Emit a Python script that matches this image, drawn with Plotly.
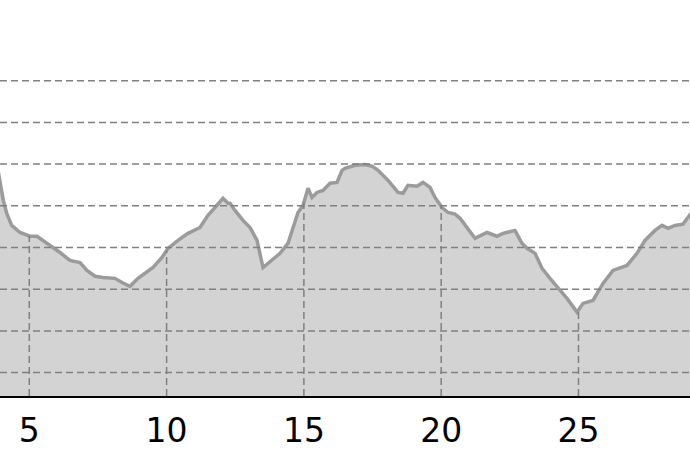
import numpy as np
import plotly.graph_objects as go

# distance (km) and elevation (m)
distance = [3.78, 3.933, 4.053, 4.177, 4.359, 4.661, 5.025, 5.280, 5.499, 5.827, 6.118,
            6.482, 6.846, 7.101, 7.393, 7.684, 8.121, 8.376, 8.667, 8.959, 9.213,
            9.505, 9.832, 10.051, 10.415, 10.779, 11.216, 11.508, 11.763, 12.054, 12.236,
            12.309, 12.491, 12.783, 13.038, 13.293, 13.511, 13.839, 14.130, 14.421, 14.603,
            14.785, 14.967, 15.150, 15.295, 15.477, 15.696, 15.951, 16.206, 16.388, 16.497,
            16.862, 17.226, 17.481, 17.699, 18.064, 18.428, 18.610, 18.792, 19.120, 19.339,
            19.594, 19.776, 20.031, 20.249, 20.504, 20.686, 20.941, 21.232, 21.669, 22.033,
            22.251, 22.688, 22.943, 23.125, 23.417, 23.672, 23.963, 24.327, 24.582, 24.946,
            25.164, 25.528, 25.893, 26.257, 26.767, 27.131, 27.422, 27.787, 28.042, 28.260,
            28.515, 28.806, 29.061, 29.31]
elevation = [615, 556, 513, 482, 453, 436, 427, 427, 417, 400, 388,
             369, 364, 345, 331, 328, 326, 316, 307, 326, 338,
             352, 376, 398, 417, 434, 448, 477, 496, 518, 506,
             506, 489, 465, 448, 417, 352, 369, 386, 410, 448,
             484, 501, 542, 520, 532, 537, 554, 556, 585, 590,
             597, 599, 595, 585, 561, 532, 530, 549, 547, 556,
             544, 520, 496, 484, 480, 470, 448, 422, 436, 427,
             434, 441, 410, 398, 386, 350, 326, 297, 278, 245,
             266, 273, 314, 345, 357, 386, 417, 441, 453, 446,
             453, 456, 477, 501]

x_ticks = [5, 10, 15, 20, 25]
grid_levels = [100, 200, 300, 400, 500, 600, 700, 800]
x_range = [3.933, 29.061]
y_range = [43.9, 880.8]

fig = go.Figure()
fig.add_trace(go.Scatter(
    x=distance, y=elevation, mode="lines",
    line=dict(color="#9b9b9b", width=3.5),
    fill="tozeroy", fillcolor="#d3d3d3",
    hoverinfo="skip", showlegend=False,
))

shapes = []
for g in grid_levels:
    shapes.append(dict(type="line", xref="paper", x0=0, x1=1, yref="y", y0=g, y1=g,
                       line=dict(color="#808080", width=1.5, dash="7px,4px"), layer="above"))
for t in x_ticks:
    top = float(np.interp(t, distance, elevation))
    shapes.append(dict(type="line", xref="x", x0=t, x1=t, yref="y", y0=y_range[0], y1=top,
                       line=dict(color="#808080", width=1.5, dash="7px,4px"), layer="above"))

fig.update_layout(
    width=690, height=460,
    margin=dict(l=0, r=0, t=47, b=64),
    paper_bgcolor="white", plot_bgcolor="white",
    shapes=shapes,
    xaxis=dict(range=x_range, tickvals=x_ticks, ticktext=[str(t) for t in x_ticks],
               showgrid=False, zeroline=False, showline=True, linecolor="black", linewidth=2,
               ticks="outside", ticklen=4, tickcolor="rgba(0,0,0,0)",
               tickfont=dict(family="DejaVu Sans", size=33, color="black")),
    yaxis=dict(range=y_range, showgrid=False, zeroline=False, showticklabels=False, showline=False),
)

fig.write_html("out.html", config={"displayModeBar": False},
               post_script="document.body.style.margin='0';document.body.style.overflow='hidden';")
